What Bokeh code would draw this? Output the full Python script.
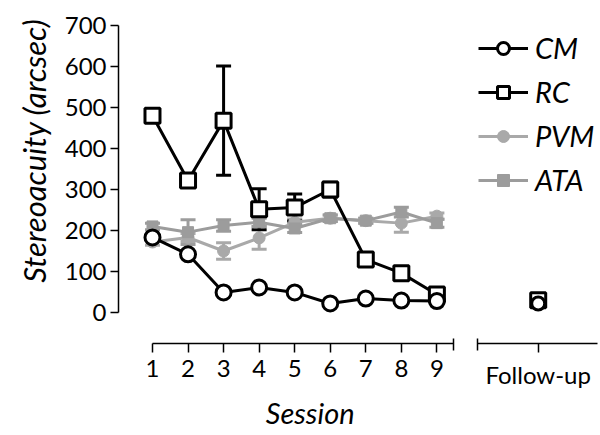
from bokeh.plotting import figure
from bokeh.models import (LinearAxis, FixedTicker, Range1d, Whisker, TeeHead,
                          ColumnDataSource, Legend, LegendItem, Label, Title)
from bokeh.embed import file_html
from bokeh.resources import INLINE

# ---- data ----
sessions = [1, 2, 3, 4, 5, 6, 7, 8, 9]
cm = [183, 142, 49, 61, 49, 22, 34, 29, 28]
rc = [480, 322, 468, 252, 256, 300, 129, 96, 44]
rc_err = [0, 0, 133, 50, 33, 18, 0, 0, 6]
pvm = [172, 183, 150, 182, 220, 230, 224, 218, 235]
pvm_err = [8, 10, 20, 28, 8, 8, 6, 22, 8]
ata = [210, 196, 212, 220, 205, 230, 224, 245, 218]
ata_err = [8, 30, 14, 10, 10, 8, 6, 12, 10]
followup_x = 11.85
cm_followup = [22]
rc_followup = [30]
y_ticks = [0, 100, 200, 300, 400, 500, 600, 700]

FONT = "Lato"
BLACK = "#000000"
GRAY_PVM = "#a9a9a9"
GRAY_ATA = "#9c9c9c"
X_AXIS_Y = -75.6  # level where the (offset) x axis sits

p = figure(width=600, height=435, output_backend="svg", toolbar_location=None,
           x_range=Range1d(0.044, 13.546), y_range=Range1d(-300, 717.1),
           min_border_left=118, min_border_right=2, min_border_top=18,
           min_border_bottom=0)
p.outline_line_color = None
p.xgrid.visible = False
p.ygrid.visible = False
p.background_fill_color = "white"


def err_source(xs, ys, es):
    b, lo, up = [], [], []
    for x, y, e in zip(xs, ys, es):
        if e > 0:
            b.append(x); lo.append(y - e); up.append(y + e)
    return ColumnDataSource(dict(base=b, lower=lo, upper=up))


def add_whisker(xs, ys, es, color):
    src = err_source(xs, ys, es)
    w = Whisker(source=src, base="base", lower="lower", upper="upper",
                line_color=color, line_width=3,
                upper_head=TeeHead(size=15, line_color=color, line_width=3),
                lower_head=TeeHead(size=15, line_color=color, line_width=3))
    p.add_layout(w)


# gray series first (underneath)
add_whisker(sessions, pvm, pvm_err, GRAY_PVM)
add_whisker(sessions, ata, ata_err, GRAY_ATA)
pvm_l = p.line(sessions, pvm, line_color=GRAY_PVM, line_width=3)
pvm_s = p.scatter(sessions, pvm, marker="circle", size=12, fill_color=GRAY_PVM,
                  line_color=GRAY_PVM)
ata_l = p.line(sessions, ata, line_color=GRAY_ATA, line_width=3)
ata_s = p.scatter(sessions, ata, marker="square", size=11, fill_color=GRAY_ATA,
                  line_color=GRAY_ATA)

# black series
add_whisker(sessions, rc, rc_err, BLACK)
rc_l = p.line(sessions, rc, line_color=BLACK, line_width=3)
rc_s = p.scatter(sessions, rc, marker="square", size=15, fill_color="white",
                 line_color=BLACK, line_width=3)
cm_l = p.line(sessions, cm, line_color=BLACK, line_width=3)
cm_s = p.scatter(sessions, cm, marker="circle", size=15, fill_color="white",
                 line_color=BLACK, line_width=3)

p.scatter([followup_x], rc_followup, marker="square", size=15, fill_color="white",
          line_color=BLACK, line_width=3)
p.scatter([followup_x], cm_followup, marker="circle", size=13, fill_color="white",
          line_color=BLACK, line_width=3)

# ---- y axis ----
yax = p.yaxis[0]
yax.ticker = FixedTicker(ticks=y_ticks)
yax.bounds = (0, 700)
yax.major_label_text_font = FONT
yax.major_label_text_font_size = "24px"
yax.major_label_text_color = BLACK
yax.major_label_standoff = 4
yax.major_tick_in = 0
yax.major_tick_out = 8
yax.minor_tick_line_color = None
yax.axis_line_width = 1.5
yax.major_tick_line_width = 1.5

# y axis title, aligned to the top of the plot
p.add_layout(Title(text="Stereoacuity (arcsec)", align="right", offset=0,
                   text_font=FONT, text_font_style="italic",
                   text_font_size="31px", text_color=BLACK, standoff=18),
             "left")


def style_x(ax):
    ax.major_label_text_font = FONT
    ax.major_label_text_font_size = "24px"
    ax.major_label_text_color = BLACK
    ax.major_label_standoff = 8
    ax.major_tick_in = 0
    ax.major_tick_out = 9
    ax.minor_tick_line_color = None
    ax.axis_line_width = 1.5
    ax.major_tick_line_width = 1.5


# ---- session axis (offset, sits inside the frame) ----
xax = p.xaxis[0]
xax.ticker = FixedTicker(ticks=sessions)
xax.bounds = (1, 9.47)
xax.fixed_location = X_AXIS_Y
style_x(xax)

# ---- follow-up axis segment ----
fax = LinearAxis(ticker=FixedTicker(ticks=[followup_x]), bounds=(10.14, 13.52),
                 fixed_location=X_AXIS_Y,
                 major_label_overrides={followup_x: "Follow-up"})
style_x(fax)
p.add_layout(fax, "below")

# end caps of the broken axis
cap = LinearAxis(ticker=FixedTicker(ticks=[9.47, 10.14]), fixed_location=X_AXIS_Y)
cap.axis_line_color = None
cap.major_label_text_color = None
cap.major_tick_in = 5
cap.major_tick_out = 7
cap.minor_tick_line_color = None
cap.major_tick_line_width = 1.5
p.add_layout(cap, "below")

# x axis title
p.add_layout(Label(x=(sessions[0] + 9.47) / 2 + 0.2, y=6, y_units="screen",
                   text="Session", text_align="center", text_baseline="bottom",
                   text_font=FONT, text_font_style="italic",
                   text_font_size="29px", text_color=BLACK))

# ---- legend ----
legend = Legend(items=[
    LegendItem(label="CM", renderers=[cm_l, cm_s]),
    LegendItem(label="RC", renderers=[rc_l, rc_s]),
    LegendItem(label="PVM", renderers=[pvm_l, pvm_s]),
    LegendItem(label="ATA", renderers=[ata_l, ata_s]),
], location=(360, 238))
legend.label_text_font = FONT
legend.label_text_font_style = "italic"
legend.label_text_font_size = "29px"
legend.label_text_color = BLACK
legend.glyph_width = 50
legend.glyph_height = 30
legend.label_height = 30
legend.label_standoff = 7
legend.spacing = 9
legend.padding = 0
legend.margin = 0
legend.border_line_color = None
legend.background_fill_alpha = 0
p.add_layout(legend)

open("out.html", "w").write(file_html(p, INLINE))
